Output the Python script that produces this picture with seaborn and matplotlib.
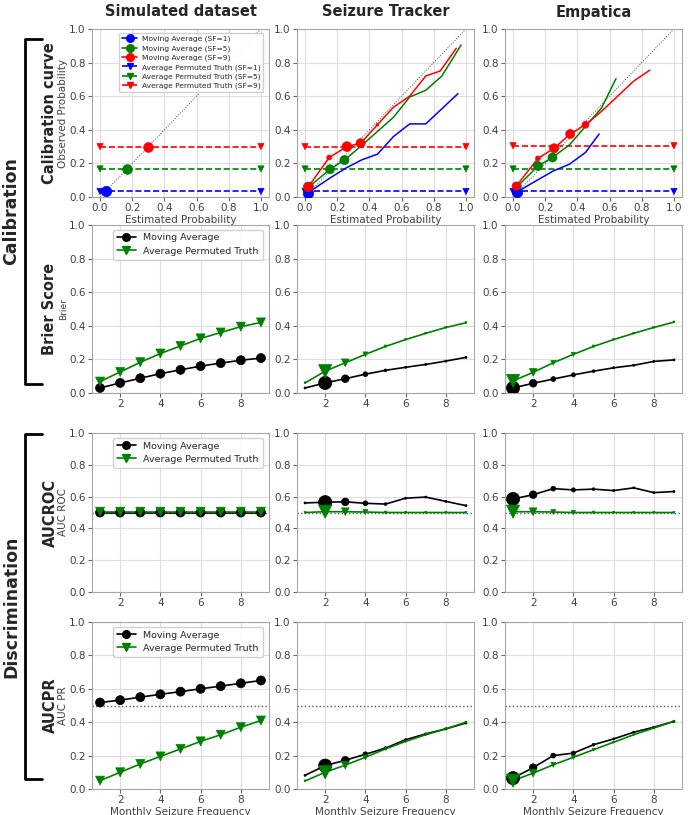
import matplotlib
matplotlib.use("Agg")
import matplotlib.pyplot as plt
import seaborn as sns
from matplotlib.lines import Line2D

# ---- data ----
datasets = ["Simulated dataset", "Seizure Tracker", "Empatica"]
sf_levels = [1, 5, 9]
sf_colors = ["blue", "green", "red"]

# calibration curves (moving average), one list per SF level
sim_cal_x = [[0.035], [0.167], [0.30]]
sim_cal_y = [[0.033], [0.167], [0.30]]
sim_cal_ms = [[7.5], [7], [7]]

st_cal_x = [[0.02, 0.15, 0.25, 0.35, 0.45, 0.55, 0.65, 0.75, 0.85, 0.95],
            [0.03, 0.155, 0.245, 0.35, 0.45, 0.55, 0.65, 0.75, 0.85, 0.97],
            [0.02, 0.15, 0.26, 0.345, 0.45, 0.55, 0.65, 0.75, 0.84, 0.94]]
st_cal_y = [[0.026, 0.11, 0.17, 0.22, 0.255, 0.36, 0.435, 0.435, 0.525, 0.615],
            [0.065, 0.165, 0.22, 0.305, 0.39, 0.475, 0.595, 0.635, 0.72, 0.905],
            [0.06, 0.235, 0.30, 0.32, 0.43, 0.535, 0.60, 0.72, 0.75, 0.885]]
st_cal_ms = [[7.5, 0, 0, 0, 0, 0, 0, 0, 0, 0],
             [5, 6.5, 6.5, 0, 0, 0, 0, 0, 0, 0],
             [7, 3.5, 7, 6.5, 2, 0, 0, 0, 0, 0]]

emp_cal_x = [[0.025, 0.15, 0.25, 0.35, 0.45, 0.535],
             [0.03, 0.155, 0.245, 0.35, 0.45, 0.55, 0.64],
             [0.02, 0.155, 0.255, 0.355, 0.45, 0.55, 0.65, 0.75, 0.85]]
emp_cal_y = [[0.03, 0.10, 0.155, 0.195, 0.265, 0.375],
             [0.065, 0.185, 0.235, 0.31, 0.42, 0.53, 0.705],
             [0.065, 0.23, 0.29, 0.375, 0.43, 0.51, 0.60, 0.69, 0.755]]
emp_cal_ms = [[7.5, 0, 0, 0, 0, 0],
              [5, 6.5, 6.5, 0, 0, 0, 0],
              [6, 3.5, 6.5, 6.5, 5, 0, 0, 0, 0]]

perm_x = [0.0, 1.0]
sim_perm = [0.033, 0.167, 0.30]
st_perm = [0.033, 0.167, 0.30]
emp_perm = [0.033, 0.167, 0.305]

# metrics vs monthly seizure frequency
freq = [1, 2, 3, 4, 5, 6, 7, 8, 9]

sim_brier_ma = [0.03, 0.06, 0.088, 0.115, 0.138, 0.16, 0.178, 0.195, 0.208]
sim_brier_pt = [0.068, 0.125, 0.183, 0.235, 0.28, 0.325, 0.36, 0.395, 0.42]
st_brier_ma = [0.03, 0.06, 0.085, 0.112, 0.135, 0.153, 0.17, 0.19, 0.212]
st_brier_pt = [0.06, 0.13, 0.18, 0.23, 0.277, 0.318, 0.355, 0.39, 0.418]
emp_brier_ma = [0.03, 0.058, 0.083, 0.108, 0.13, 0.15, 0.165, 0.188, 0.197]
emp_brier_pt = [0.072, 0.123, 0.18, 0.23, 0.277, 0.318, 0.355, 0.39, 0.422]

sim_roc_ma = [0.50, 0.50, 0.50, 0.50, 0.50, 0.50, 0.50, 0.50, 0.50]
sim_roc_pt = [0.505, 0.505, 0.505, 0.505, 0.505, 0.505, 0.505, 0.505, 0.505]
st_roc_ma = [0.56, 0.565, 0.567, 0.558, 0.553, 0.59, 0.597, 0.57, 0.543]
st_roc_pt = [0.50, 0.505, 0.505, 0.503, 0.50, 0.50, 0.50, 0.50, 0.50]
emp_roc_ma = [0.585, 0.612, 0.65, 0.642, 0.647, 0.638, 0.655, 0.625, 0.632]
emp_roc_pt = [0.505, 0.505, 0.503, 0.50, 0.50, 0.50, 0.50, 0.50, 0.50]

sim_pr_ma = [0.518, 0.532, 0.55, 0.567, 0.583, 0.60, 0.616, 0.633, 0.65]
sim_pr_pt = [0.05, 0.10, 0.15, 0.195, 0.24, 0.285, 0.325, 0.37, 0.41]
st_pr_ma = [0.082, 0.14, 0.172, 0.208, 0.245, 0.295, 0.33, 0.36, 0.395]
st_pr_pt = [0.048, 0.10, 0.143, 0.19, 0.24, 0.285, 0.325, 0.36, 0.40]
emp_pr_ma = [0.065, 0.128, 0.20, 0.215, 0.265, 0.30, 0.34, 0.37, 0.405]
emp_pr_pt = [0.05, 0.095, 0.145, 0.19, 0.235, 0.28, 0.325, 0.365, 0.405]

# marker size per frequency point (number of patients behind each point)
sim_ms = [6.5, 6.5, 6.5, 6.5, 6.5, 6.5, 6.5, 6.5, 6.5]
st_ms = [1.5, 9.5, 5.5, 3.5, 2, 1.5, 1.5, 1.5, 1.5]
emp_ms = [9.5, 5.5, 3.5, 3, 2, 1.5, 1.5, 1.5, 1.5]

# ---- style ----
sns.set_style("whitegrid", {"xtick.bottom": True, "ytick.left": True,
                            "axes.edgecolor": "0.65", "grid.color": "0.87"})
plt.rcParams["font.family"] = ["DejaVu Sans"]

W, H = 688, 815
fig = plt.figure(figsize=(W / 100, H / 100), dpi=100)

col_left = [92, 297, 505]
col_w = 177
row_top = [29, 225, 433, 622]
row_bot = [197, 393, 592, 789]

TICK = 7.5
axes = []
for r in range(4):
    row = []
    for c in range(3):
        ax = fig.add_axes([col_left[c] / W, 1 - row_bot[r] / H,
                           col_w / W, (row_bot[r] - row_top[r]) / H])
        ax.tick_params(labelsize=TICK, length=3, color="0.4", labelcolor="0.25", pad=1.5)
        row.append(ax)
    axes.append(row)


def markers(ax, x, y, ms, color, marker):
    pts = [(a, b, m) for a, b, m in zip(x, y, ms) if m > 0]
    if not pts:
        return
    sns.scatterplot(x=[p[0] for p in pts], y=[p[1] for p in pts],
                    s=[p[2] ** 2 for p in pts], color=color, marker=marker,
                    edgecolor=color, linewidth=0.5, ax=ax, zorder=4, legend=False)


# ---- row 1: calibration curves ----
cal_x = [sim_cal_x, st_cal_x, emp_cal_x]
cal_y = [sim_cal_y, st_cal_y, emp_cal_y]
cal_ms = [sim_cal_ms, st_cal_ms, emp_cal_ms]
perm = [sim_perm, st_perm, emp_perm]
for c in range(3):
    ax = axes[0][c]
    ax.plot([0, 1], [0, 1], color="0.3", ls=":", lw=0.7, zorder=2)
    for k in range(3):
        col = sf_colors[k]
        sns.lineplot(x=perm_x, y=[perm[c][k]] * 2, color=col, ls="--", lw=1.2,
                     ax=ax, zorder=3)
        markers(ax, perm_x, [perm[c][k]] * 2, [4.5, 4.5], col, "v")
    for k in range(3):
        col = sf_colors[k]
        if len(cal_x[c][k]) > 1:
            sns.lineplot(x=cal_x[c][k], y=cal_y[c][k], color=col, lw=1.1,
                         sort=False, estimator=None, ax=ax, zorder=3)
        markers(ax, cal_x[c][k], cal_y[c][k], cal_ms[c][k], col, "o")
    ax.set_xlim(-0.05, 1.05)
    ax.set_ylim(0, 1)
    ax.set_xticks([0, 0.2, 0.4, 0.6, 0.8, 1.0])
    ax.set_yticks([0, 0.2, 0.4, 0.6, 0.8, 1.0])
    ax.set_xlabel("Estimated Probability", fontsize=7.5, color="0.25", labelpad=1)
    ax.set_ylabel("")
axes[0][0].set_ylabel("Observed Probability", fontsize=7.5, color="0.25", labelpad=1)

cal_handles = []
cal_labels = []
for k in range(3):
    cal_handles.append(Line2D([], [], color=sf_colors[k], marker="o", ms=5.5, lw=1.2))
    cal_labels.append(f"Moving Average (SF={sf_levels[k]})")
for k in range(3):
    cal_handles.append(Line2D([], [], color=sf_colors[k], marker="v", ms=4, lw=1.2, ls="--"))
    cal_labels.append(f"Average Permuted Truth (SF={sf_levels[k]})")
axes[0][0].legend(cal_handles, cal_labels, loc="upper right", fontsize=5.4,
                  handlelength=2.0, borderpad=0.4, labelspacing=0.35,
                  handletextpad=0.6, bbox_to_anchor=(0.99, 1.0), framealpha=0.9)

# ---- rows 2-4: metrics vs frequency ----
metric_ma = [[sim_brier_ma, st_brier_ma, emp_brier_ma],
             [sim_roc_ma, st_roc_ma, emp_roc_ma],
             [sim_pr_ma, st_pr_ma, emp_pr_ma]]
metric_pt = [[sim_brier_pt, st_brier_pt, emp_brier_pt],
             [sim_roc_pt, st_roc_pt, emp_roc_pt],
             [sim_pr_pt, st_pr_pt, emp_pr_pt]]
point_ms = [sim_ms, st_ms, emp_ms]
metric_ylabels = ["Brier", "AUC ROC", "AUC PR"]
ylabel_size = [6.5, 7.5, 7.5]

for r in range(1, 4):
    for c in range(3):
        ax = axes[r][c]
        if r >= 2:
            ax.axhline(0.5, color="0.35", ls=":", lw=1.0, zorder=2)
        ma = metric_ma[r - 1][c]
        pt = metric_pt[r - 1][c]
        sns.lineplot(x=freq, y=ma, color="black", lw=1.2, ax=ax, zorder=3)
        markers(ax, freq, ma, point_ms[c], "black", "o")
        sns.lineplot(x=freq, y=pt, color="green", lw=1.2, ax=ax, zorder=3)
        markers(ax, freq, pt, point_ms[c], "green", "v")
        ax.set_ylim(0, 1)
        ax.set_xlim(0.6, 9.4)
        ax.set_xticks([2, 4, 6, 8])
        ax.set_yticks([0, 0.2, 0.4, 0.6, 0.8, 1.0])
        ax.set_ylabel("")
        if r == 3:
            ax.set_xlabel("Monthly Seizure Frequency", fontsize=7.5, color="0.25", labelpad=1)
    axes[r][0].set_ylabel(metric_ylabels[r - 1], fontsize=ylabel_size[r - 1],
                          color="0.25", labelpad=1)
    handles = [Line2D([], [], color="black", marker="o", ms=5.5, lw=1.2),
               Line2D([], [], color="green", marker="v", ms=5.5, lw=1.2)]
    axes[r][0].legend(handles, ["Moving Average", "Average Permuted Truth"],
                      loc="upper right", fontsize=6.8, handlelength=2.0,
                      borderpad=0.4, labelspacing=0.45, bbox_to_anchor=(0.99, 1.0),
                      framealpha=0.9)

# ---- titles, row labels, brackets ----
for c in range(3):
    fig.text((col_left[c] + col_w / 2) / W, 1 - 12 / H, datasets[c],
             ha="center", va="center", fontsize=10.5, fontweight="bold")

row_names = ["Calibration curve", "Brier Score", "AUCROC", "AUCPR"]
for r in range(4):
    yc = (row_top[r] + row_bot[r]) / 2
    fig.text(50 / W, 1 - yc / H, row_names[r], rotation=90, ha="center",
             va="center", fontsize=10.5, fontweight="bold")

groups = [("Calibration", 39, 384), ("Discrimination", 434, 779)]
for name, y0, y1 in groups:
    xs = [42 / W, 25 / W, 25 / W, 42 / W]
    ys = [1 - y0 / H, 1 - y0 / H, 1 - y1 / H, 1 - y1 / H]
    fig.add_artist(Line2D(xs, ys, color="black", lw=2))
    fig.text(11 / W, 1 - (y0 + y1) / 2 / H, name, rotation=90, ha="center",
             va="center", fontsize=12.5, fontweight="bold")

fig.savefig("out.png", dpi=100)
